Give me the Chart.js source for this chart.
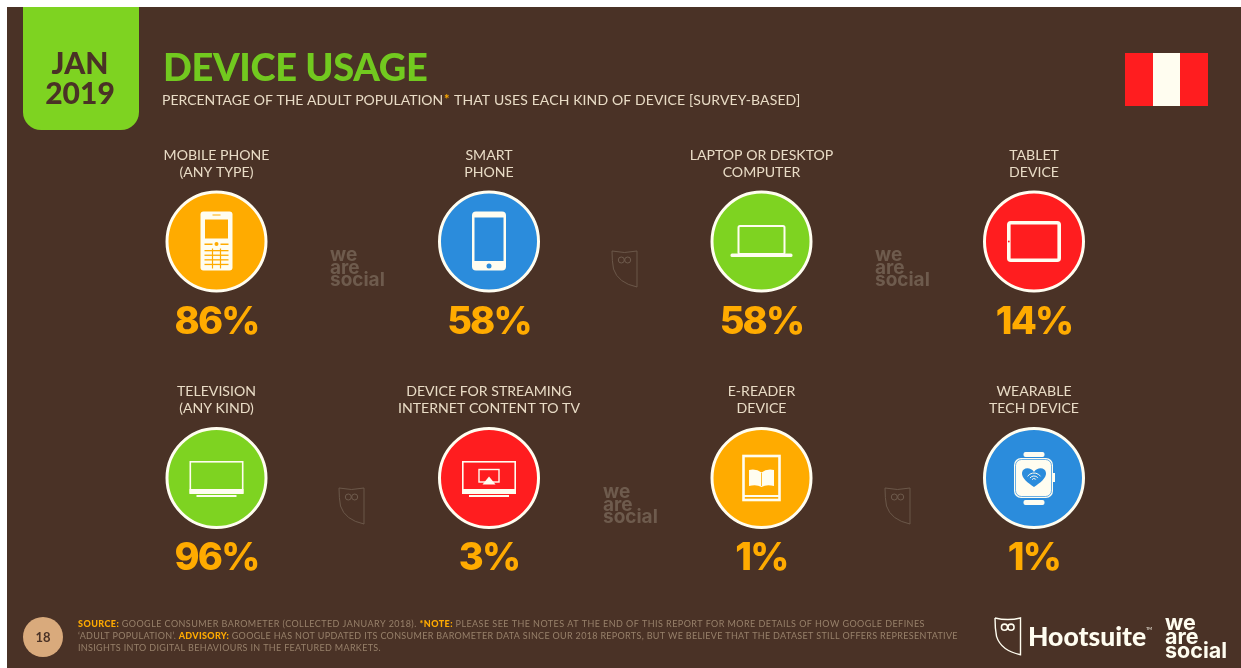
<!DOCTYPE html>
<html lang="en">
<head>
<meta charset="UTF-8">
<title>Device Usage</title>
<script src="https://cdn.jsdelivr.net/npm/chart.js"></script>
<style>
  html, body { margin: 0; background: #fff; overflow: hidden; }
  canvas { display: block; }
</style>
</head>
<body>
<canvas id="usage" width="1241" height="668"></canvas>
<script>
const deviceNames = [
  ['MOBILE PHONE', '(ANY TYPE)'],
  ['SMART', 'PHONE'],
  ['LAPTOP OR DESKTOP', 'COMPUTER'],
  ['TABLET', 'DEVICE'],
  ['TELEVISION', '(ANY KIND)'],
  ['DEVICE FOR STREAMING', 'INTERNET CONTENT TO TV'],
  ['E-READER', 'DEVICE'],
  ['WEARABLE', 'TECH DEVICE']
];
const usagePercent = [86, 58, 58, 14, 96, 3, 1, 1];
const deviceIcons = ['mobile', 'smart', 'laptop', 'tablet', 'tv', 'stream', 'reader', 'watch'];

const BROWN = '#4a3226', CREAM = '#fffdf0', ORANGE = '#ffab00', RED = '#ff1d1f',
      BLUE = '#2b8cdc', GREEN = '#7ed321', LABEL = '#e9dcc6', FAINT = '#6e5b4d';
const discColors = [ORANGE, BLUE, GREEN, RED, GREEN, RED, ORANGE, BLUE];
const COLUMNS = 4;

function roundRect(ctx, x, y, w, h, r) {
  ctx.beginPath();
  ctx.roundRect(x, y, w, h, r);
}

function text(ctx, str, x, y, font, color, align, spacing) {
  ctx.font = font;
  ctx.fillStyle = color;
  ctx.textAlign = align || 'left';
  ctx.textBaseline = 'alphabetic';
  ctx.letterSpacing = (spacing || 0) + 'px';
  ctx.fillText(str, x, y);
  ctx.letterSpacing = '0px';
}

// icons are drawn around the disc centre
const iconPainters = {
  mobile(ctx, x, y, bg) {
    ctx.fillStyle = CREAM;
    roundRect(ctx, x - 16, y - 30, 32, 59, 3); ctx.fill();
    ctx.fillStyle = bg;
    ctx.fillRect(x - 11.5, y - 22, 23, 19);
    ctx.fillRect(x - 4, y - 27, 8, 1);
    ctx.fillRect(x - 12, y + 2, 8, 1.5);
    ctx.fillRect(x + 4, y + 2, 8, 1.5);
    ctx.beginPath(); ctx.arc(x, y + 2.5, 2, 0, Math.PI * 2); ctx.fill();
    for (let r = 0; r < 4; r++) ctx.fillRect(x - 12, y + 8.5 + r * 4.6, 24, 1.3);
    for (let c = -1; c < 2; c += 2) ctx.fillRect(x + c * 4 - 0.6, y + 7, 1.2, 20);
  },
  smart(ctx, x, y, bg) {
    ctx.fillStyle = CREAM;
    roundRect(ctx, x - 17, y - 30, 34, 59, 4); ctx.fill();
    ctx.fillStyle = bg;
    ctx.fillRect(x - 14.5, y - 24, 29, 43.5);
    ctx.beginPath(); ctx.arc(x, y + 24.5, 2.5, 0, Math.PI * 2); ctx.fill();
  },
  laptop(ctx, x, y) {
    ctx.strokeStyle = CREAM; ctx.fillStyle = CREAM; ctx.lineWidth = 2;
    roundRect(ctx, x - 23, y - 15.5, 46, 28, 1.5); ctx.stroke();
    roundRect(ctx, x - 31, y + 12, 62, 3.5, 1.5); ctx.fill();
  },
  tablet(ctx, x, y, bg) {
    ctx.strokeStyle = CREAM; ctx.lineWidth = 3.6;
    roundRect(ctx, x - 25.2, y - 18.7, 50.4, 37.4, 2); ctx.stroke();
    ctx.fillStyle = bg;
    ctx.beginPath(); ctx.arc(x - 25.2, y, 0.9, 0, Math.PI * 2); ctx.fill();
  },
  tv(ctx, x, y) {
    ctx.strokeStyle = CREAM; ctx.fillStyle = CREAM; ctx.lineWidth = 1.6;
    ctx.strokeRect(x - 26.2, y - 16.2, 52.4, 31);
    ctx.fillRect(x - 27, y + 11, 54, 5);
    ctx.fillRect(x - 20, y + 17, 40, 2);
  },
  stream(ctx, x, y) {
    iconPainters.tv(ctx, x, y);
    ctx.lineWidth = 1.4;
    ctx.strokeRect(x - 10, y - 8.5, 20, 12.5);
    ctx.beginPath();
    ctx.moveTo(x - 6.5, y + 6.5); ctx.lineTo(x, y - 1.5); ctx.lineTo(x + 6.5, y + 6.5);
    ctx.closePath(); ctx.fill();
  },
  reader(ctx, x, y, bg) {
    ctx.strokeStyle = CREAM; ctx.fillStyle = CREAM; ctx.lineWidth = 2.6;
    ctx.strokeRect(x - 18, y - 22, 36, 44);
    ctx.fillRect(x - 18, y + 17, 36, 2);
    // open book
    ctx.beginPath();
    ctx.moveTo(x - 12.5, y - 8);
    ctx.quadraticCurveTo(x - 5, y - 9.5, x, y - 5.5);
    ctx.quadraticCurveTo(x + 5, y - 9.5, x + 12.5, y - 8);
    ctx.lineTo(x + 12.5, y + 8);
    ctx.quadraticCurveTo(x + 5, y + 6, x, y + 9);
    ctx.quadraticCurveTo(x - 5, y + 6, x - 12.5, y + 8);
    ctx.closePath(); ctx.fill();
    ctx.fillStyle = bg;
    ctx.fillRect(x - 0.4, y - 5, 0.8, 13);
  },
  watch(ctx, x, y, bg) {
    ctx.fillStyle = CREAM; ctx.strokeStyle = CREAM;
    roundRect(ctx, x - 10.5, y - 26, 21, 5, 2); ctx.fill();
    roundRect(ctx, x - 10.5, y + 22, 21, 5, 2); ctx.fill();
    roundRect(ctx, x - 20, y - 20, 39, 40, 7); ctx.fill();
    ctx.fillRect(x + 19, y - 5, 2, 9);
    ctx.strokeStyle = bg; ctx.lineWidth = 0.7;
    roundRect(ctx, x - 18.5, y - 18.5, 36, 37, 6); ctx.stroke();
    // heart with wifi arcs
    ctx.fillStyle = bg;
    ctx.beginPath();
    ctx.moveTo(x, y + 9);
    ctx.bezierCurveTo(x - 6, y + 5, x - 12.5, y, x - 12, y - 5);
    ctx.bezierCurveTo(x - 11.5, y - 11, x - 3, y - 11, x, y - 6);
    ctx.bezierCurveTo(x + 3, y - 11, x + 11.5, y - 11, x + 12, y - 5);
    ctx.bezierCurveTo(x + 12.5, y, x + 6, y + 5, x, y + 9);
    ctx.fill();
    ctx.strokeStyle = CREAM; ctx.lineWidth = 1;
    [8, 5, 2.4].forEach(r => {
      ctx.beginPath(); ctx.arc(x, y + 3, r, Math.PI * 1.2, Math.PI * 1.8); ctx.stroke();
    });
  }
};

function owl(ctx, x, y, s, color, lw) {
  // head outline, width 25 and height 36 at s = 1
  ctx.strokeStyle = color; ctx.lineWidth = lw;
  ctx.beginPath();
  ctx.moveTo(x, y);
  ctx.quadraticCurveTo(x + 12.5 * s, y + 3 * s, x + 25 * s, y);
  ctx.lineTo(x + 25 * s, y + 36 * s);
  ctx.quadraticCurveTo(x + 6 * s, y + 32 * s, x + 1.5 * s, y + 18 * s);
  ctx.quadraticCurveTo(x, y + 10 * s, x, y);
  ctx.stroke();
  ctx.lineWidth = lw * 1.1;
  [9.3, 15.7].forEach(ex => {
    ctx.beginPath();
    ctx.arc(x + ex * s, y + 9 * s, 3 * s, 0, Math.PI * 2);
    ctx.stroke();
  });
}

function weAreSocial(ctx, x, y, size, color) {
  const font = '700 ' + size + 'px Inter';
  const gap = size * 0.66;
  text(ctx, 'we', x, y, font, color);
  text(ctx, 'are', x, y + gap, font, color);
  text(ctx, 'social', x, y + gap * 2, font, color);
}

// slide furniture behind the discs
const slideBackdrop = {
  id: 'slideBackdrop',
  beforeDraw(chart) {
    const ctx = chart.ctx;
    ctx.save();
    ctx.fillStyle = BROWN;
    ctx.fillRect(7, 7, 1234, 661);

    ctx.fillStyle = GREEN;
    roundRect(ctx, 23, 7, 116, 123, [0, 0, 18, 18]); ctx.fill();
    text(ctx, 'JAN', 80, 74, '900 30px Lato', BROWN, 'center');
    text(ctx, '2019', 80, 104, '900 30px Lato', BROWN, 'center');

    text(ctx, 'DEVICE USAGE', 163, 81, '900 38px Lato', '#72c91f', 'left', -0.35);
    text(ctx, 'PERCENTAGE OF THE ADULT POPULATION', 162, 105, '400 14px Lato', LABEL);
    text(ctx, '*', 444, 104, '700 13px Lato', ORANGE);
    text(ctx, 'THAT USES EACH KIND OF DEVICE [SURVEY-BASED]', 454, 105, '400 14px Lato', LABEL, 'left', 0.12);

    ctx.fillStyle = RED;
    ctx.fillRect(1125, 53, 83, 53);
    ctx.fillStyle = CREAM;
    ctx.fillRect(1153, 53, 27, 53);

    weAreSocial(ctx, 330, 261, 19, FAINT);
    weAreSocial(ctx, 875, 261, 19, FAINT);
    weAreSocial(ctx, 603, 498, 19, FAINT);
    owl(ctx, 612, 251, 1, FAINT, 0.9);
    owl(ctx, 339, 488, 1, FAINT, 0.9);
    owl(ctx, 885, 488, 1, FAINT, 0.9);

    // footer
    ctx.fillStyle = '#d9aa7c';
    ctx.beginPath(); ctx.arc(43, 637, 20, 0, Math.PI * 2); ctx.fill();
    text(ctx, '18', 43, 642, '700 13px Lato', BROWN, 'center');

    const note = '#97806a', bold = '900 9px Lato', plain = '400 9px Lato';
    const lines = [
      [[bold, ORANGE, 'SOURCE: '], [plain, note, 'GOOGLE CONSUMER BAROMETER (COLLECTED JANUARY 2018). '], [bold, ORANGE, '*NOTE: '],
       [plain, note, 'PLEASE SEE THE NOTES AT THE END OF THIS REPORT FOR MORE DETAILS OF HOW GOOGLE DEFINES']],
      [[plain, note, '\u2018ADULT POPULATION\u2019. '], [bold, ORANGE, 'ADVISORY: '],
       [plain, note, 'GOOGLE HAS NOT UPDATED ITS CONSUMER BAROMETER DATA SINCE OUR 2018 REPORTS, BUT WE BELIEVE THAT THE DATASET STILL OFFERS REPRESENTATIVE']],
      [[plain, note, 'INSIGHTS INTO DIGITAL BEHAVIOURS IN THE FEATURED MARKETS.']]
    ];
    const spacing = [0.44, 0.32, 0.33];
    lines.forEach((runs, i) => {
      let x = 78;
      runs.forEach(([font, color, str]) => {
        text(ctx, str, x, 627 + i * 12, font, color, 'left', spacing[i]);
        ctx.font = font;
        ctx.letterSpacing = spacing[i] + 'px';
        x += ctx.measureText(str).width;
        ctx.letterSpacing = '0px';
      });
    });

    owl(ctx, 995, 618, 1.02, CREAM, 1.4);
    text(ctx, 'Hootsuite', 1028, 646, '900 26.5px Lato', CREAM);
    text(ctx, 'TM', 1146, 630, '400 4px Lato', CREAM);
    weAreSocial(ctx, 1165, 630, 21.5, CREAM);
    ctx.restore();
  }
};

// captions, icons and percentages hang off the plotted points
const discDecor = {
  id: 'discDecor',
  afterDatasetsDraw(chart) {
    const ctx = chart.ctx;
    ctx.save();
    chart.getDatasetMeta(0).data.forEach((pt, i) => {
      const { x, y } = pt.getProps(['x', 'y'], true);
      const name = deviceNames[i];
      text(ctx, name[0], x, y - 82, '400 14.1px Lato', LABEL, 'center');
      text(ctx, name[1], x, y - 65, '400 14.1px Lato', LABEL, 'center');
      iconPainters[deviceIcons[i]](ctx, x, y, discColors[i]);
      text(ctx, usagePercent[i] + '%', x, y + 92, '800 38px Inter', ORANGE, 'center', -1.8);
    });
    ctx.restore();
  }
};

new Chart(document.getElementById('usage'), {
  type: 'scatter',
  data: {
    datasets: [{
      label: 'Device usage',
      data: usagePercent.map((v, i) => ({ x: i % COLUMNS, y: Math.floor(i / COLUMNS), value: v })),
      pointRadius: 49.5,
      pointHoverRadius: 49.5,
      pointBackgroundColor: discColors,
      pointBorderColor: CREAM,
      pointBorderWidth: 3,
      clip: false
    }]
  },
  options: {
    responsive: false,
    animation: false,
    layout: { padding: { left: 216.5, right: 207, top: 241.5, bottom: 190 } },
    scales: {
      x: { type: 'linear', min: 0, max: COLUMNS - 1, display: false },
      y: { type: 'linear', min: 0, max: 1, reverse: true, display: false }
    },
    plugins: { legend: { display: false }, tooltip: { enabled: false } }
  },
  plugins: [slideBackdrop, discDecor]
});
</script>
</body>
</html>
